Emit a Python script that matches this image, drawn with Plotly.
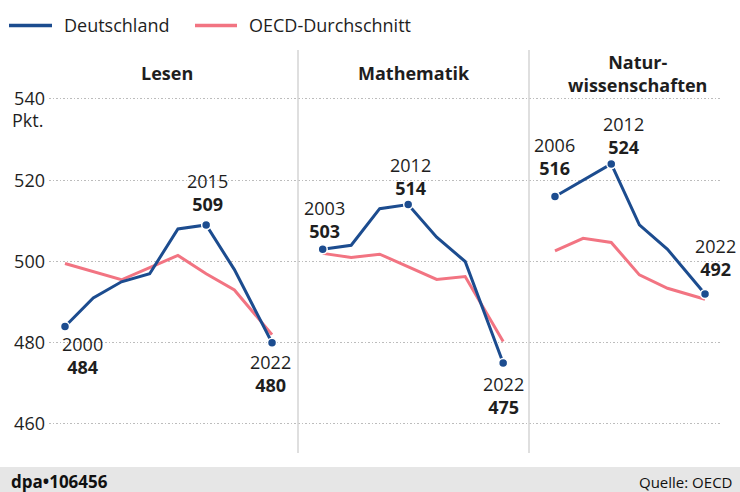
import plotly.graph_objects as go

# ---------------- data ----------------
subjects = ["Lesen", "Mathematik", "Natur-<br>wissenschaften"]

years_lesen = [2000, 2003, 2006, 2009, 2012, 2015, 2018, 2022]
de_lesen = [484, 491, 495, 497, 508, 509, 498, 480]
oecd_lesen = [499.5, 497.5, 495.5, 498.5, 501.5, 497, 493, 482]
hl_lesen = [2000, 2015, 2022]

years_mathe = [2003, 2006, 2009, 2012, 2015, 2018, 2022]
de_mathe = [503, 504, 513, 514, 506, 500, 475]
oecd_mathe = [502, 501, 501.8, 498.7, 495.6, 496.3, 480.3]
hl_mathe = [2003, 2012, 2022]

years_natur = [2006, 2009, 2012, 2015, 2018, 2022]
de_natur = [516, 520, 524, 509, 503, 492]
oecd_natur = [502.6, 505.7, 504.7, 496.7, 493.4, 490.7]
hl_natur = [2006, 2012, 2022]

y_ticks = [460, 480, 500, 520, 540]
legend_names = ["Deutschland", "OECD-Durchschnitt"]
unit_label = "Pkt."
credit = "dpa\u2022106456"
source = "Quelle: OECD"

# ---------------- style ----------------
BLUE = "#1c4c8f"
RED = "#f27482"
TXT = "#1e1e1e"
FONT = "Open Sans"
FS = 18
W, H = 740, 492
ML, MR, MT, MB = 49, 18, 50, 39
PW, PH = W - ML - MR, H - MT - MB


def px_x(p):
    return (p - ML) / PW


def px_y(p):
    return (H - MB - p) / PH


seps = [298, 529]
domains = [[0, px_x(seps[0])], [px_x(seps[0]), px_x(seps[1])], [px_x(seps[1]), 1]]
xranges = [[1998.3, 2024.76], [2000.4, 2024.72], [2003.23, 2023.81]]
yrange = [452.86, 552.06]

panels = [
    (years_lesen, de_lesen, oecd_lesen, hl_lesen),
    (years_mathe, de_mathe, oecd_mathe, hl_mathe),
    (years_natur, de_natur, oecd_natur, hl_natur),
]
# label offsets (xshift, yshift) in px for highlighted points
label_shifts = [
    [(17, -29), (1, 32), (-2, -31)],
    [(2, 30), (2, 28), (0, -32)],
    [(0, 40), (12, 28), (10, 36)],
]

fig = go.Figure()
annotations = []
for i, (yrs, de, oe, hl) in enumerate(panels):
    ax = "x" if i == 0 else f"x{i+1}"
    ay = "y" if i == 0 else f"y{i+1}"
    fig.add_trace(go.Scatter(x=yrs, y=oe, mode="lines", line=dict(color=RED, width=3),
                             xaxis=ax, yaxis=ay, showlegend=False, hoverinfo="skip"))
    fig.add_trace(go.Scatter(x=yrs, y=de, mode="lines", line=dict(color=BLUE, width=3),
                             xaxis=ax, yaxis=ay, showlegend=False, hoverinfo="skip"))
    hx = [y for y in yrs if y in hl]
    hy = [v for y, v in zip(yrs, de) if y in hl]
    fig.add_trace(go.Scatter(x=hx, y=hy, mode="markers",
                             marker=dict(color=BLUE, size=9, line=dict(color="white", width=1.5)),
                             xaxis=ax, yaxis=ay, showlegend=False, hoverinfo="skip"))
    for (xv, yv), (dx, dy) in zip(zip(hx, hy), label_shifts[i]):
        annotations.append(dict(x=xv, y=yv, xref=ax, yref=ay,
                                text=f"{xv}<br><b>{yv}</b>", showarrow=False,
                                xshift=dx, yshift=dy, xanchor="center", yanchor="middle",
                                font=dict(size=FS, color=TXT, family=FONT)))

layout = dict(
    width=W, height=H,
    margin=dict(l=ML, r=MR, t=MT, b=MB),
    paper_bgcolor="white", plot_bgcolor="white",
    font=dict(family=FONT, size=FS, color=TXT),
    showlegend=False,
)
for i in range(3):
    sfx = "" if i == 0 else str(i + 1)
    layout[f"xaxis{sfx}"] = dict(domain=domains[i], range=xranges[i], showgrid=False,
                                 zeroline=False, showticklabels=False, ticks="",
                                 showline=False, anchor=f"y{sfx}")
    layout[f"yaxis{sfx}"] = dict(range=yrange, tickvals=y_ticks, showgrid=True,
                                 gridcolor="#bcbcbc", griddash="1.5px,2px", gridwidth=1,
                                 zeroline=False, showline=False, ticks="",
                                 showticklabels=(i == 0), anchor=f"x{sfx}",
                                 ticklabelstandoff=3,
                                 tickfont=dict(size=FS, color=TXT, family=FONT))
fig.update_layout(**layout)

shapes = []
for s in seps:
    shapes.append(dict(type="line", xref="paper", yref="paper", x0=px_x(s), x1=px_x(s),
                       y0=0, y1=1, line=dict(color="#d4d4d4", width=1.5)))
# footer band
shapes.append(dict(type="rect", xref="paper", yref="paper", x0=px_x(0), x1=px_x(W),
                   y0=px_y(H), y1=px_y(467), fillcolor="#e6e6e6", line=dict(width=0), layer="below"))
# legend
for (x0, x1), col in zip([(9, 52), (195, 237)], [BLUE, RED]):
    shapes.append(dict(type="line", xref="paper", yref="paper", x0=px_x(x0), x1=px_x(x1),
                       y0=px_y(25.5), y1=px_y(25.5), line=dict(color=col, width=3.5)))
for name, xp in zip(legend_names, [62, 247]):
    annotations.append(dict(x=px_x(xp), y=px_y(25), xref="paper", yref="paper", text=name,
                            showarrow=False, xanchor="left", yanchor="middle",
                            font=dict(size=FS, color=TXT, family=FONT)))

# panel titles
for t, xp in zip(subjects, [167, 414, 637.5]):
    annotations.append(dict(x=px_x(xp), y=px_y(73), xref="paper", yref="paper",
                            text=f"<b>{t}</b>", showarrow=False, xanchor="center",
                            yanchor="middle", font=dict(size=FS, color=TXT, family=FONT)))

annotations.append(dict(x=px_x(10), y=px_y(120), xref="paper", yref="paper", text=unit_label,
                        showarrow=False, xanchor="left", yanchor="middle",
                        font=dict(size=FS, color=TXT, family=FONT)))
annotations.append(dict(x=px_x(9), y=px_y(482), xref="paper", yref="paper",
                        text=f"<b>{credit}</b>", showarrow=False, xanchor="left",
                        yanchor="middle", font=dict(size=17, color="#111", family=FONT)))
annotations.append(dict(x=px_x(734), y=px_y(482), xref="paper", yref="paper", text=source,
                        showarrow=False, xanchor="right", yanchor="middle",
                        font=dict(size=15, color="#111", family=FONT)))

fig.update_layout(shapes=shapes, annotations=annotations)
fig.write_html("out.html", config={"displayModeBar": False},
               post_script="document.body.style.margin='0';")
